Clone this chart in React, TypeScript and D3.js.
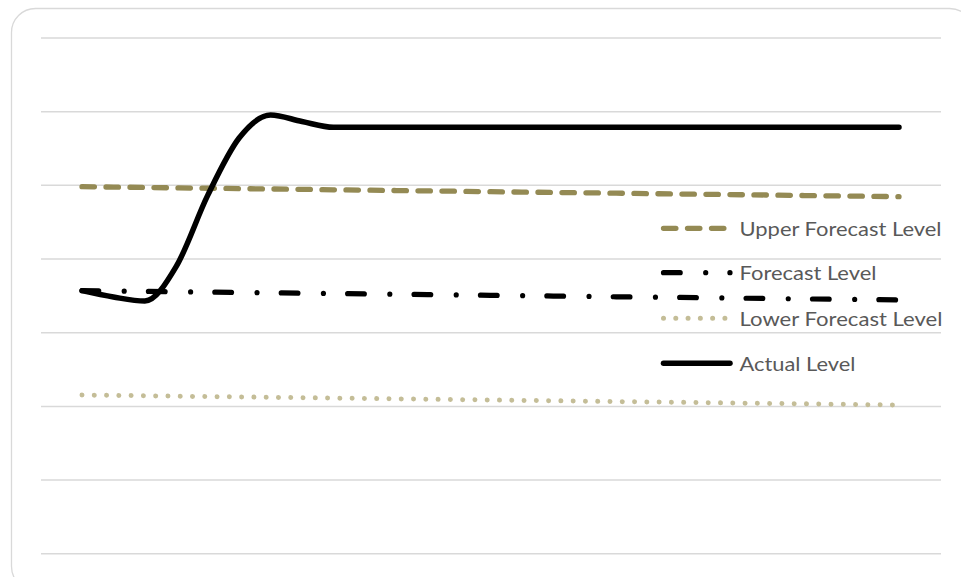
import React from "react";
import * as d3 from "d3";

// Period index for each observation
const periods: number[] = d3.range(27);

const actualLevel: number[] = [
  3.571, 3.485, 3.43, 3.9, 4.864, 5.643, 5.955, 5.867, 5.789, 5.789,
  5.789, 5.789, 5.789, 5.789, 5.789, 5.789, 5.789, 5.789, 5.789, 5.789,
  5.789, 5.789, 5.789, 5.789, 5.789, 5.789, 5.789,
];

const upperForecast: number[] = [
  4.982, 4.977, 4.972, 4.966, 4.961, 4.956, 4.951, 4.946, 4.94, 4.935,
  4.93, 4.925, 4.92, 4.914, 4.909, 4.904, 4.899, 4.894, 4.888, 4.883,
  4.878, 4.873, 4.868, 4.862, 4.857, 4.852, 4.847,
];

const forecastLevel: number[] = [
  3.571, 3.566, 3.561, 3.556, 3.552, 3.547, 3.542, 3.537, 3.532, 3.527,
  3.522, 3.518, 3.513, 3.508, 3.503, 3.498, 3.493, 3.488, 3.484, 3.479,
  3.474, 3.469, 3.464, 3.459, 3.454, 3.45, 3.445,
];

const lowerForecast: number[] = [
  2.155, 2.15, 2.145, 2.139, 2.134, 2.129, 2.124, 2.119, 2.113, 2.108,
  2.103, 2.098, 2.092, 2.087, 2.082, 2.077, 2.071, 2.066, 2.061, 2.056,
  2.05, 2.045, 2.04, 2.035, 2.03, 2.024, 2.019,
];

const seriesNames: string[] = [
  "Upper Forecast Level",
  "Forecast Level",
  "Lower Forecast Level",
  "Actual Level",
];

const W = 961;
const H = 577;

type Style = {
  color: string;
  width: number;
  dash?: string;
  curve: d3.CurveFactory;
};

const styles: Style[] = [
  { color: "#948a54", width: 5.3, dash: "12.4 11.6", curve: d3.curveLinear },
  { color: "#000000", width: 5.2, dash: "16.7 25.5 0.01 24.2", curve: d3.curveLinear },
  { color: "#c4bd97", width: 5, dash: "0.01 12.27", curve: d3.curveLinear },
  { color: "#000000", width: 5.5, curve: d3.curveMonotoneX },
];

const textWidths: number[] = [202, 137, 203, 116];

export default function App() {
  const x = d3.scaleLinear().domain([0, 26]).range([82, 899]);
  const y = d3.scaleLinear().domain([0, 7]).range([553.8, 38]);

  const data = [upperForecast, forecastLevel, lowerForecast, actualLevel];
  // draw order: lower, upper, forecast, actual on top
  const drawOrder = [2, 0, 1, 3];

  const legendX0 = 663.5;
  const legendX1 = 730;
  const legendY = [228.3, 272.7, 318.3, 363.3];

  return (
    <svg
      width={W}
      height={H}
      style={{ position: "absolute", left: 0, top: 0, background: "#fff" }}
    >
      <rect
        x={11.5}
        y={8.5}
        width={962}
        height={582}
        rx={24}
        ry={24}
        fill="#ffffff"
        stroke="#d9d9d9"
        strokeWidth={1.3}
      />
      <g>
        {y.ticks(7).map((t) => (
          <line
            key={t}
            x1={41}
            x2={941}
            y1={y(t)}
            y2={y(t)}
            stroke="#d9d9d9"
            strokeWidth={1.5}
          />
        ))}
      </g>
      <g>
        {drawOrder.map((i) => {
          const s = styles[i];
          const line = d3
            .line<number>()
            .x((_, j) => x(periods[j]))
            .y((d) => y(d))
            .curve(s.curve);
          return (
            <path
              key={i}
              d={line(data[i]) || ""}
              fill="none"
              stroke={s.color}
              strokeWidth={s.width}
              strokeDasharray={s.dash}
              strokeLinecap="round"
              strokeLinejoin="round"
            />
          );
        })}
      </g>
      <g>
        {seriesNames.map((name, i) => {
          const s = styles[i];
          return (
            <g key={name}>
              <line
                x1={legendX0}
                x2={legendX1}
                y1={legendY[i]}
                y2={legendY[i]}
                stroke={s.color}
                strokeWidth={s.width}
                strokeDasharray={s.dash}
                strokeLinecap="round"
              />
              <text
                x={739.5}
                y={legendY[i] + 7.3}
                fontFamily="Lato, 'Open Sans', sans-serif"
                fontSize={20}
                fill="#595959"
                textLength={textWidths[i]}
                lengthAdjust="spacingAndGlyphs"
              >
                {name}
              </text>
            </g>
          );
        })}
      </g>
    </svg>
  );
}
